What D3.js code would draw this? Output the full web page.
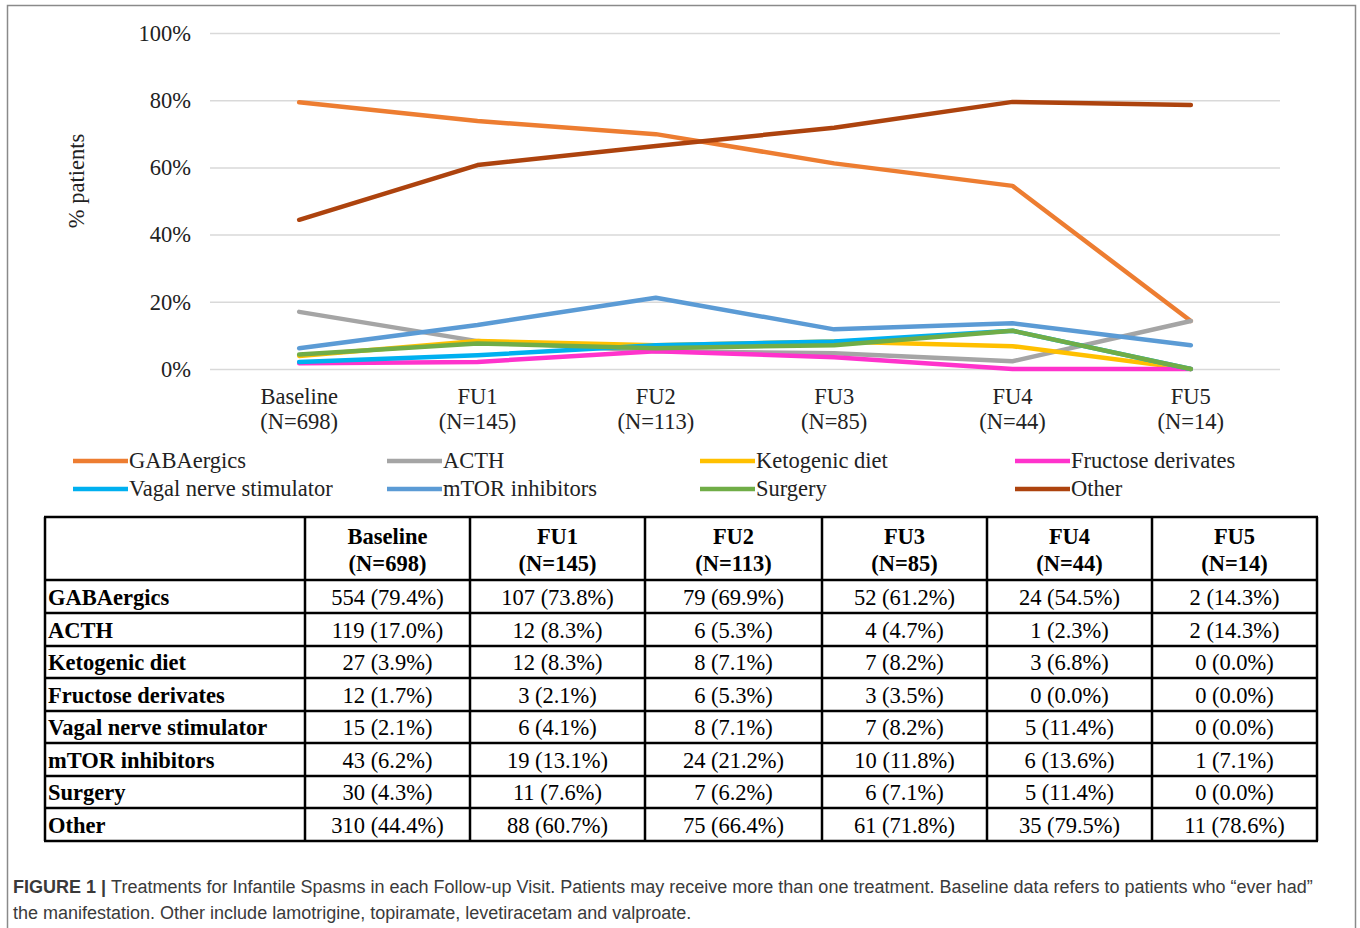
<!DOCTYPE html>
<html>
<head>
<meta charset="utf-8">
<script src="https://cdn.jsdelivr.net/npm/d3@7"></script>
<style>
  body { margin: 0; background: #fff; }
  svg { display: block; }
</style>
</head>
<body>
<div id="tu"></div>
<script>
// categories / header labels
var visits = ["Baseline", "FU1", "FU2", "FU3", "FU4", "FU5"];
var sizes = ["(N=698)", "(N=145)", "(N=113)", "(N=85)", "(N=44)", "(N=14)"];
var treatments = ["GABAergics", "ACTH", "Ketogenic diet", "Fructose derivates",
                  "Vagal nerve stimulator", "mTOR inhibitors", "Surgery", "Other"];
var colors = ["#ed7d31", "#a5a5a5", "#ffc000", "#ff33cc",
              "#00b0f0", "#5b9bd5", "#70ad47", "#ad430e"];

// counts and percentages, one array per treatment (same order as treatments)
var counts = [
  [554, 107, 79, 52, 24, 2],
  [119, 12, 6, 4, 1, 2],
  [27, 12, 8, 7, 3, 0],
  [12, 3, 6, 3, 0, 0],
  [15, 6, 8, 7, 5, 0],
  [43, 19, 24, 10, 6, 1],
  [30, 11, 7, 6, 5, 0],
  [310, 88, 75, 61, 35, 11]
];
var pct = [
  [79.4, 73.8, 69.9, 61.2, 54.5, 14.3],
  [17.0, 8.3, 5.3, 4.7, 2.3, 14.3],
  [3.9, 8.3, 7.1, 8.2, 6.8, 0.0],
  [1.7, 2.1, 5.3, 3.5, 0.0, 0.0],
  [2.1, 4.1, 7.1, 8.2, 11.4, 0.0],
  [6.2, 13.1, 21.2, 11.8, 13.6, 7.1],
  [4.3, 7.6, 6.2, 7.1, 11.4, 0.0],
  [44.4, 60.7, 66.4, 71.8, 79.5, 78.6]
];
var yTicks = [0, 20, 40, 60, 80, 100];

var fullWidth = 1360, fullHeight = 928;
var serif = "'Liberation Serif','Times New Roman',serif";
var fs = 22.5;

var svg = d3.select("#tu").append("svg")
  .attr("width", fullWidth)
  .attr("height", fullHeight);

// outer frame
svg.append("rect")
  .attr("x", 7.5).attr("y", 5.5)
  .attr("width", 1348).attr("height", 940)
  .attr("fill", "none").attr("stroke", "#8a8a8a").attr("stroke-width", 1.5);

// ---- line chart ----
var xScale = d3.scalePoint().domain(visits).range([210, 1280]).padding(0.5);
var yScale = d3.scaleLinear().domain([0, 100]).range([369, 33]);

var g = svg.append("g");

var yAxis = d3.axisLeft(yScale).tickValues(yTicks)
  .tickSize(-(1280 - 210)).tickPadding(19)
  .tickFormat(function(d) { return d + "%"; });

var ya = g.append("g").attr("transform", "translate(210,0)").call(yAxis);
ya.select(".domain").remove();
ya.selectAll(".tick line").attr("stroke", "#d9d9d9").attr("stroke-width", 1.5);
ya.selectAll(".tick text")
  .attr("font-family", serif).attr("font-size", fs).attr("fill", "#222");

// x labels (two lines)
var xa = g.append("g");
visits.forEach(function(v, i) {
  var t = xa.append("text")
    .attr("x", xScale(v)).attr("y", 404)
    .attr("text-anchor", "middle")
    .attr("font-family", serif).attr("font-size", fs).attr("fill", "#222");
  t.append("tspan").attr("x", xScale(v)).text(v);
  t.append("tspan").attr("x", xScale(v)).attr("dy", 25).text(sizes[i]);
});

// y axis title
g.append("text")
  .attr("transform", "translate(84,181) rotate(-90)")
  .attr("text-anchor", "middle")
  .attr("font-family", serif).attr("font-size", fs).attr("fill", "#222")
  .text("% patients");

var line = d3.line()
  .x(function(d, i) { return xScale(visits[i]); })
  .y(function(d) { return yScale(d); });

pct.forEach(function(s, k) {
  g.append("path")
    .datum(s)
    .attr("d", line)
    .attr("fill", "none")
    .attr("stroke", colors[k])
    .attr("stroke-width", 4.5)
    .attr("stroke-linejoin", "round")
    .attr("stroke-linecap", "round");
});

// legend
var legX = [73, 387, 700, 1015];
var legY = [461, 489];
treatments.forEach(function(name, k) {
  var col = k % 4, row = Math.floor(k / 4);
  var lg = svg.append("g").attr("transform", "translate(" + legX[col] + "," + legY[row] + ")");
  lg.append("line").attr("x1", 0).attr("x2", 55).attr("y1", 0).attr("y2", 0)
    .attr("stroke", colors[k]).attr("stroke-width", 4.5);
  lg.append("text").attr("x", 56).attr("y", 7)
    .attr("font-family", serif).attr("font-size", fs).attr("fill", "#222")
    .text(name);
});

// ---- table ----
var colEdges = [45, 305, 470, 645, 822, 987, 1152, 1317];
var rowEdges = [517, 580, 613, 646, 678, 711, 743, 776, 808, 841];

var tb = svg.append("g");

// header
visits.forEach(function(v, i) {
  var cx = (colEdges[i + 1] + colEdges[i + 2]) / 2;
  var t = tb.append("text").attr("text-anchor", "middle")
    .attr("font-family", serif).attr("font-size", fs).attr("font-weight", "bold")
    .attr("fill", "#000");
  t.append("tspan").attr("x", cx).attr("y", 544).text(v);
  t.append("tspan").attr("x", cx).attr("y", 571).text(sizes[i]);
});

// body rows
treatments.forEach(function(name, r) {
  var yy = (rowEdges[r + 1] + rowEdges[r + 2]) / 2 + 8;
  tb.append("text").attr("x", colEdges[0] + 3).attr("y", yy)
    .attr("font-family", serif).attr("font-size", fs).attr("font-weight", "bold")
    .attr("fill", "#000").text(name);
  counts[r].forEach(function(c, i) {
    var cx = (colEdges[i + 1] + colEdges[i + 2]) / 2;
    tb.append("text").attr("x", cx).attr("y", yy).attr("text-anchor", "middle")
      .attr("font-family", serif).attr("font-size", fs).attr("fill", "#000")
      .text(c + " (" + pct[r][i].toFixed(1) + "%)");
  });
});

// grid lines of table
rowEdges.forEach(function(y) {
  tb.append("line").attr("x1", colEdges[0] - 1).attr("x2", colEdges[colEdges.length - 1] + 1)
    .attr("y1", y).attr("y2", y).attr("stroke", "#000").attr("stroke-width", 2.5);
});
colEdges.forEach(function(x) {
  tb.append("line").attr("x1", x).attr("x2", x)
    .attr("y1", rowEdges[0]).attr("y2", rowEdges[rowEdges.length - 1])
    .attr("stroke", "#000").attr("stroke-width", 2.5);
});

// caption
var capFont = "'Liberation Sans','Helvetica','Arial',sans-serif";
var cap1 = svg.append("text").attr("x", 13).attr("y", 893)
  .attr("font-family", capFont)
  .attr("font-size", 18).attr("fill", "#3a3a3a");
cap1.append("tspan").attr("font-weight", "bold").text("FIGURE 1 | ");
cap1.append("tspan").text("Treatments for Infantile Spasms in each Follow-up Visit. Patients may receive more than one treatment. Baseline data refers to patients who \u201cever had\u201d");
svg.append("text").attr("x", 13).attr("y", 919)
  .attr("font-family", capFont)
  .attr("font-size", 18).attr("fill", "#3a3a3a")
  .text("the manifestation. Other include lamotrigine, topiramate, levetiracetam and valproate.");
</script>
</body>
</html>
